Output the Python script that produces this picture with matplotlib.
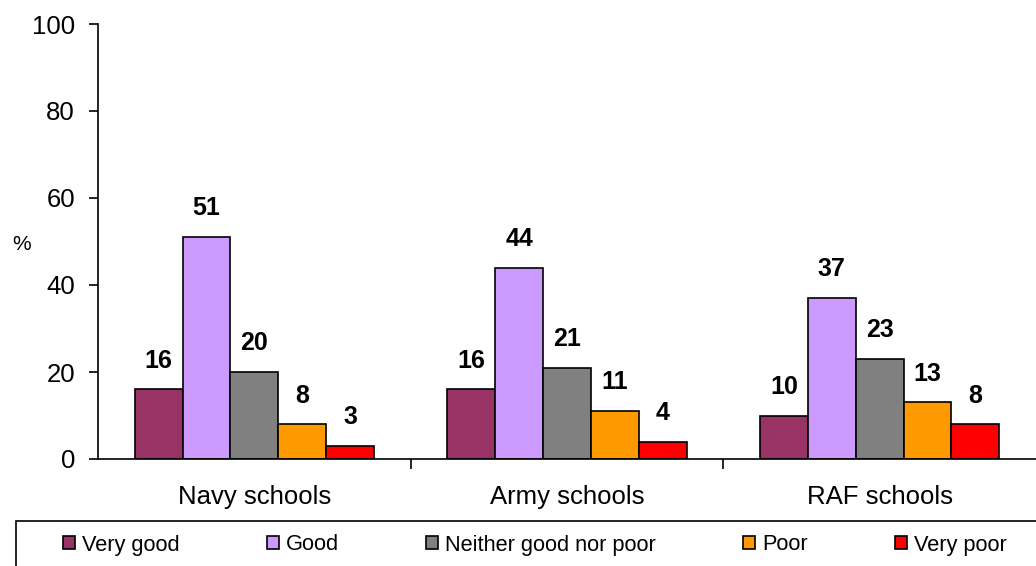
import numpy as np
import matplotlib.pyplot as plt
from matplotlib.patches import Rectangle

plt.rcParams['font.family'] = ['Liberation Sans', 'DejaVu Sans']

# données
schools = ['Navy schools', 'Army schools', 'RAF schools']
ratings = ['Very good', 'Good', 'Neither good nor poor', 'Poor', 'Very poor']
very_good = [16, 16, 10]
good = [51, 44, 37]
neither = [20, 21, 23]
poor = [8, 11, 13]
very_poor = [3, 4, 8]
colours = ['#993366', '#CC99FF', '#808080', '#FF9900', '#FF0000']

series = [very_good, good, neither, poor, very_poor]

fig = plt.figure(figsize=(10.36, 5.66), dpi=100)
ax = fig.add_axes([98/1036, 107/566, 1 - 98/1036, 435/566])

x = np.arange(len(schools))
width = 0.153

for i, (vals, name, col) in enumerate(zip(series, ratings, colours)):
    pos = x + (i - 2) * width
    bars = ax.bar(pos, vals, width, color=col, edgecolor='black', linewidth=1.2, label=name)
    for b, v in zip(bars, vals):
        ax.annotate(str(v), (b.get_x() + b.get_width()/2, v), xytext=(0, 12),
                    textcoords='offset points', ha='center', va='bottom',
                    fontsize=18, fontweight='bold')

ax.set_xlim(-0.5, 2.5)
ax.set_ylim(0, 100)
ax.set_yticks(range(0, 101, 20))
ax.tick_params(axis='y', labelsize=18.5, length=6.5, width=1.2, direction='out', pad=10)
ax.set_xticks(x)
ax.set_xticklabels(schools, fontsize=18.5)
ax.tick_params(axis='x', which='major', length=0, pad=19)
ax.set_xticks([0.5, 1.5], minor=True)
ax.tick_params(axis='x', which='minor', length=7, width=1.2, direction='out')

ax.spines['top'].set_visible(False)
ax.spines['right'].set_visible(False)
ax.spines['left'].set_linewidth(1.2)
ax.spines['bottom'].set_linewidth(1.2)

ax.text(-77/939, (459-245)/435, '%', transform=ax.transAxes, fontsize=15,
        ha='center', va='center')

# légende
fig.patches.append(Rectangle((16/1036, -0.1), 1.0, 0.1 + 45/566, transform=fig.transFigure,
                             fill=False, edgecolor='black', linewidth=1.2))
leg = fig.legend(loc='center', bbox_to_anchor=(535/1036, 21/566), ncol=5, frameon=False,
                 fontsize=15.7, handlelength=0.55, handleheight=0.55, handletextpad=0.32,
                 columnspacing=4.0)

fig.savefig('out.png', dpi=100)
